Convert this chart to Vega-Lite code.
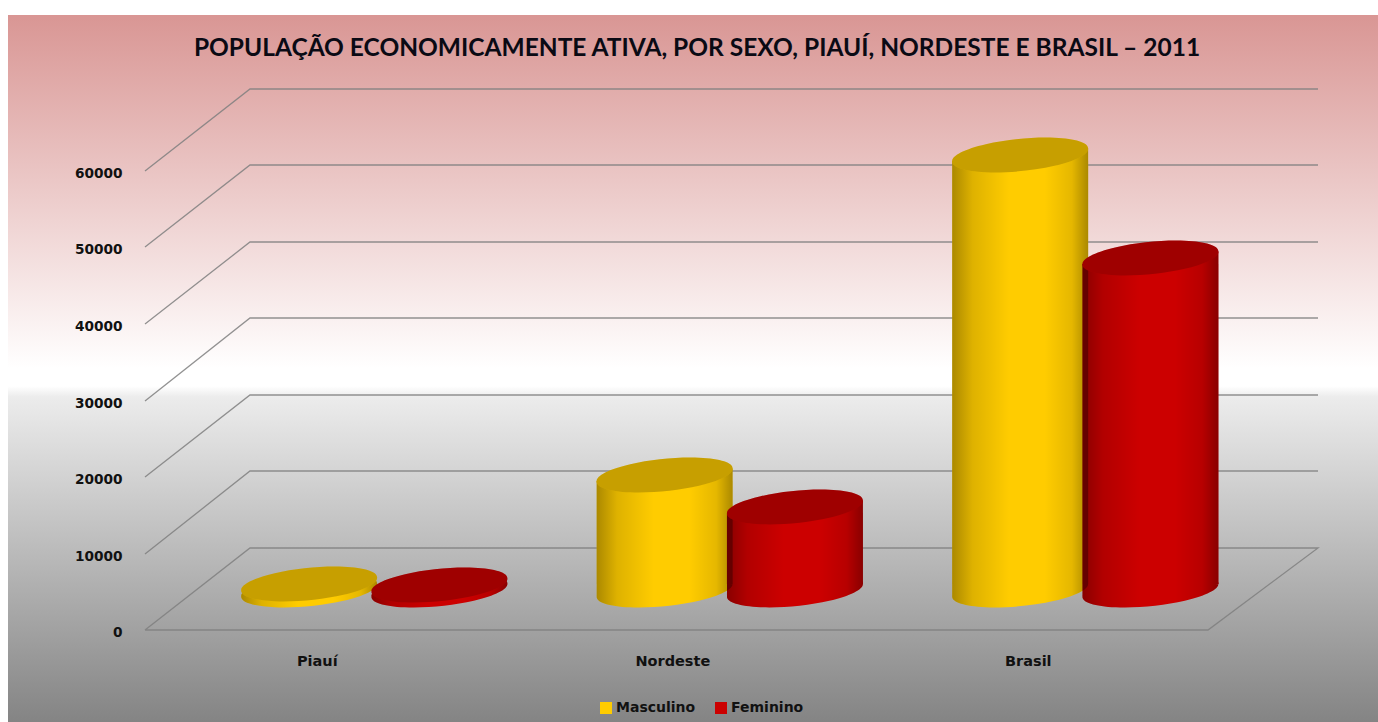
{
"$schema":"https://vega.github.io/schema/vega-lite/v6.json",
"width":1370,"height":707,
"autosize":"none",
"padding":{"left":8,"top":15,"right":0,"bottom":0},
"background":"#ffffff",
"config":{"view":{"stroke":null},"font":"DejaVu Sans"},
"title":{"text":"POPULAÇÃO ECONOMICAMENTE ATIVA, POR SEXO, PIAUÍ, NORDESTE E BRASIL – 2011","font":"Lato","fontWeight":"bold","fontSize":24.5,"color":"#0a0a14","anchor":"middle","orient":"top","offset":-58,"dx":4,"baseline":"middle"},
"datasets":{
"pea":[
{"regiao":"Piauí","sexo":"Masculino","valor":800},
{"regiao":"Piauí","sexo":"Feminino","valor":600},
{"regiao":"Nordeste","sexo":"Masculino","valor":15030},
{"regiao":"Nordeste","sexo":"Feminino","valor":10850},
{"regiao":"Brasil","sexo":"Masculino","valor":56860},
{"regiao":"Brasil","sexo":"Feminino","valor":43400}],
"grade":[
{"nivel":0,"passo":0,"piso":0,"parede":0},{"nivel":0,"passo":1,"piso":105,"parede":10720},{"nivel":0,"passo":2,"piso":1173,"parede":10720},{"nivel":0,"passo":3,"piso":1063,"parede":0},{"nivel":0,"passo":4,"piso":0,"parede":0},
{"nivel":10000,"passo":0,"piso":0,"parede":10000},{"nivel":10000,"passo":1,"piso":105,"parede":20720},{"nivel":10000,"passo":2,"piso":1173,"parede":20720},
{"nivel":20000,"passo":0,"piso":0,"parede":20000},{"nivel":20000,"passo":1,"piso":105,"parede":30720},{"nivel":20000,"passo":2,"piso":1173,"parede":30720},
{"nivel":30000,"passo":0,"piso":0,"parede":30000},{"nivel":30000,"passo":1,"piso":105,"parede":40720},{"nivel":30000,"passo":2,"piso":1173,"parede":40720},
{"nivel":40000,"passo":0,"piso":0,"parede":40000},{"nivel":40000,"passo":1,"piso":105,"parede":50720},{"nivel":40000,"passo":2,"piso":1173,"parede":50720},
{"nivel":50000,"passo":0,"piso":0,"parede":50000},{"nivel":50000,"passo":1,"piso":105,"parede":60720},{"nivel":50000,"passo":2,"piso":1173,"parede":60720},
{"nivel":60000,"passo":0,"piso":0,"parede":60000},{"nivel":60000,"passo":1,"piso":105,"parede":70720},{"nivel":60000,"passo":2,"piso":1173,"parede":70720}]
},
"resolve":{"scale":{"x":"independent"}},
"layer":[
{"data":{"values":[{"fundo":1}]},
 "mark":{"type":"rect","fill":{"gradient":"linear","x1":0,"y1":0,"x2":0,"y2":1,"stops":[{"offset":0,"color":"#d99694"},{"offset":0.5,"color":"#ffffff"},{"offset":0.525,"color":"#ffffff"},{"offset":0.54,"color":"#ececec"},{"offset":1,"color":"#848484"}]}},
 "encoding":{}},
{"data":{"name":"grade"},
 "mark":{"type":"line","stroke":"#7f7f7f","strokeWidth":1.3,"strokeOpacity":0.85,"interpolate":"linear"},
 "encoding":{
  "x":{"field":"piso","type":"quantitative","axis":null,"scale":{"domain":[0,1063],"range":[137,1200],"nice":false,"zero":false}},
  "y":{"field":"parede","type":"quantitative",
   "axis":{"zindex":1,"title":null,"values":[0,10000,20000,30000,40000,50000,60000],"format":"d","domain":false,"ticks":false,"grid":false,"labelPadding":-114,"labelOffset":2,"labelFont":"DejaVu Sans","labelFontWeight":"bold","labelFontSize":13.7,"labelColor":"#111111"},
   "scale":{"domain":[-12026,80392],"nice":false,"zero":false,"round":true}},
  "detail":{"field":"nivel"},
  "order":{"field":"passo"}}},
{"data":{"name":"pea"},
 "encoding":{
  "x":{"field":"regiao","type":"nominal","sort":["Piauí","Nordeste","Brasil"],
   "scale":{"type":"band","range":[236,1207.6],"paddingInner":0.267,"paddingOuter":0},
   "axis":{"zindex":1,"title":null,"labelAngle":0,"domain":false,"ticks":false,"grid":false,"labelPadding":-68,"labelOffset":-57,"labelFont":"DejaVu Sans","labelFontWeight":"bold","labelFontSize":14.5,"labelColor":"#111111"}},
  "xOffset":{"field":"sexo","type":"nominal","sort":["Masculino","Feminino"]},
  "y":{"field":"valor","type":"quantitative","stack":null}
 },
 "layer":[
 {"mark":{"type":"point","filled":true,"opacity":1,"size":18660,"yOffset":-40},
  "encoding":{"y":{"datum":0},
   "shape":{"condition":{"test":"datum.valor > 3000","value":"M-0.995,0.0935 A1,0.23 -5.7 1 1 0.995,-0.0935 A1,0.23 -5.7 1 1 -0.995,0.0935 Z M-0.995,-0.0878 L0.995,-0.0878 L-0.995,0.0935 Z"},"value":"M-0.995,0.0935 A1,0.23 -5.7 1 1 0.995,-0.0935 A1,0.23 -5.7 1 1 -0.995,0.0935 Z"},
   "color":{"field":"sexo","type":"nominal","scale":{"domain":["Masculino","Feminino"],"range":["#ffcc00","#cc0000"]},
    "legend":{"title":null,"orient":"none","legendX":591,"legendY":686,"direction":"horizontal","symbolType":"square","symbolSize":144,"symbolOpacity":1,"labelFont":"DejaVu Sans","labelFontWeight":"bold","labelFontSize":14,"labelColor":"#111111","labelOffset":3,"columnPadding":18}}}},
 {"mark":{"type":"point","filled":true,"opacity":1,"size":18660,"yOffset":-40,
   "fill":{"gradient":"linear","x1":0,"y1":0,"x2":1,"y2":0,"stops":[{"offset":0,"color":"rgba(0,0,0,0.33)"},{"offset":0.15,"color":"rgba(0,0,0,0.13)"},{"offset":0.42,"color":"rgba(0,0,0,0)"},{"offset":0.68,"color":"rgba(0,0,0,0)"},{"offset":0.88,"color":"rgba(0,0,0,0.1)"},{"offset":1,"color":"rgba(0,0,0,0.33)"}]}},
  "encoding":{"y":{"datum":0},
   "shape":{"condition":{"test":"datum.valor > 3000","value":"M-0.995,0.0935 A1,0.23 -5.7 1 1 0.995,-0.0935 A1,0.23 -5.7 1 1 -0.995,0.0935 Z M-0.995,-0.0878 L0.995,-0.0878 L-0.995,0.0935 Z"},"value":"M-0.995,0.0935 A1,0.23 -5.7 1 1 0.995,-0.0935 A1,0.23 -5.7 1 1 -0.995,0.0935 Z"}}},
 {"transform":[{"filter":"datum.valor > 3000"}],
  "mark":{"type":"bar","width":136,"yOffset":-34,"y2Offset":-46},
  "encoding":{"y2":{"datum":0},"color":{"field":"sexo","type":"nominal"}}},
 {"transform":[{"filter":"datum.valor > 3000"}],
  "mark":{"type":"bar","width":136,"yOffset":-34,"y2Offset":-46,
   "fill":{"gradient":"linear","x1":0,"y1":0,"x2":1,"y2":0,"stops":[{"offset":0,"color":"rgba(0,0,0,0.33)"},{"offset":0.15,"color":"rgba(0,0,0,0.13)"},{"offset":0.42,"color":"rgba(0,0,0,0)"},{"offset":0.68,"color":"rgba(0,0,0,0)"},{"offset":0.88,"color":"rgba(0,0,0,0.1)"},{"offset":1,"color":"rgba(0,0,0,0.33)"}]}},
  "encoding":{"y2":{"datum":0}}},
 {"transform":[{"filter":"datum.valor > 3000"}],
  "mark":{"type":"point","filled":true,"opacity":1,"size":18660,"yOffset":-40,"shape":"M-0.995,0.0935 L0.995,-0.0935 L0.995,0.0878 L-0.995,0.0878 Z"},
  "encoding":{"color":{"field":"sexo","type":"nominal"}}},
 {"transform":[{"filter":"datum.valor > 3000"}],
  "mark":{"type":"point","filled":true,"opacity":1,"size":18660,"yOffset":-40,"shape":"M-0.995,0.0935 L0.995,-0.0935 L0.995,0.0878 L-0.995,0.0878 Z",
   "fill":{"gradient":"linear","x1":0,"y1":0,"x2":1,"y2":0,"stops":[{"offset":0,"color":"rgba(0,0,0,0.33)"},{"offset":0.15,"color":"rgba(0,0,0,0.13)"},{"offset":0.42,"color":"rgba(0,0,0,0)"},{"offset":0.68,"color":"rgba(0,0,0,0)"},{"offset":0.88,"color":"rgba(0,0,0,0.1)"},{"offset":1,"color":"rgba(0,0,0,0.33)"}]}}},
 {"mark":{"type":"point","filled":true,"opacity":1,"size":18660,"yOffset":-40,"shape":"M-0.995,0.0935 A1,0.23 -5.7 1 1 0.995,-0.0935 A1,0.23 -5.7 1 1 -0.995,0.0935 Z"},
  "encoding":{"color":{"field":"sexo","type":"nominal"}}},
 {"mark":{"type":"point","filled":true,"fill":"#000000","opacity":0.22,"size":18660,"yOffset":-40,"shape":"M-0.995,0.0935 A1,0.23 -5.7 1 1 0.995,-0.0935 A1,0.23 -5.7 1 1 -0.995,0.0935 Z"}}
 ]}
]}
